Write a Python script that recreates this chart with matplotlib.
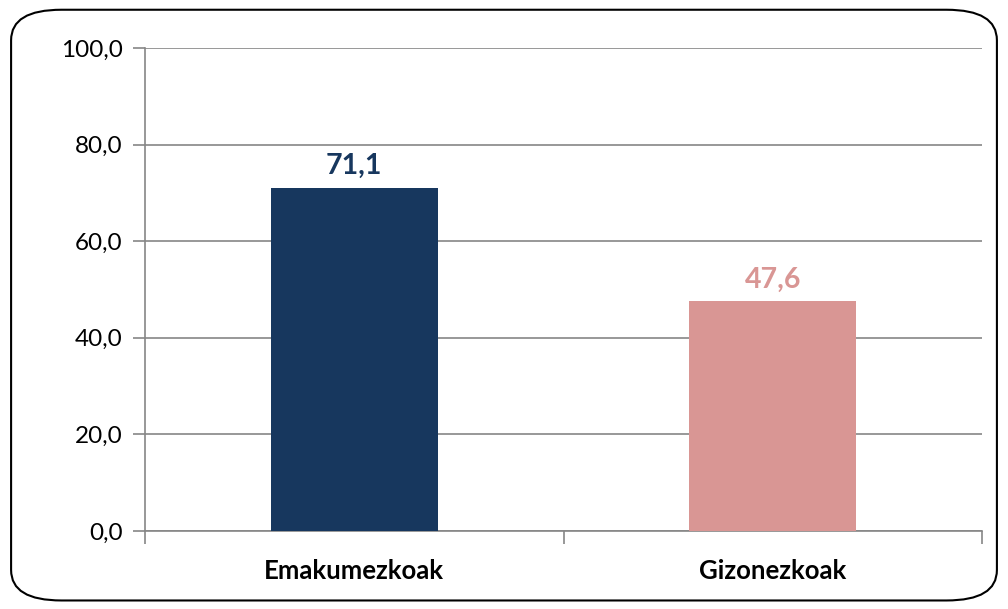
import matplotlib
matplotlib.use("Agg")
import matplotlib.pyplot as plt
from matplotlib.patches import FancyBboxPatch

categories = ["Emakumezkoak", "Gizonezkoak"]
values = [71.1, 47.6]
value_labels = ["71,1", "47,6"]
colors = ["#17375E", "#D99694"]
yticks = [0, 20, 40, 60, 80, 100]
ytick_labels = ["0,0", "20,0", "40,0", "60,0", "80,0", "100,0"]

plt.rcParams['font.family'] = ['Lato', 'DejaVu Sans']

fig = plt.figure(figsize=(10.08, 6.09), dpi=100)
border = FancyBboxPatch((0.011, 0.014), 0.978, 0.970, boxstyle="round,pad=0,rounding_size=0.05",
                        transform=fig.transFigure, fill=False, edgecolor="black", linewidth=1.5,
                        mutation_aspect=1.0)
fig.patches.append(border)

ax = fig.add_axes([145/1008, 78/609, 837/1008, 483/609])
x = [0, 1]
ax.bar(x, values, width=0.4, color=colors, zorder=3)
ax.set_xlim(-0.5, 1.5)
ax.set_ylim(0, 100)
ax.set_yticks(yticks)
ax.set_yticklabels(ytick_labels, fontsize=17.5)
ax.set_xticks([-0.5, 0.5, 1.5], minor=False)
ax.set_xticklabels([])
ax.set_xticks(x, minor=True)
ax.set_xticklabels(categories, minor=True, fontsize=18.5, fontweight='bold')
ax.tick_params(axis='x', which='minor', length=0, pad=20)
ax.tick_params(axis='x', which='major', length=9, color='#868686', width=1.2, direction='out')
ax.tick_params(axis='y', length=9, color='#868686', width=1.2, direction='out', pad=7)
ax.grid(axis='y', color='#868686', linewidth=1.2, zorder=0)
for s in ['top', 'right']:
    ax.spines[s].set_visible(False)
for s in ['left', 'bottom']:
    ax.spines[s].set_color('#868686')
    ax.spines[s].set_linewidth(1.2)

for xi, v, lab, c in zip(x, values, value_labels, colors):
    ax.annotate(lab, (xi, v), xytext=(0, 6), textcoords='offset points', ha='center', va='bottom',
                fontsize=20.5, fontweight='bold', color=c)

fig.savefig("out.png", dpi=100)
